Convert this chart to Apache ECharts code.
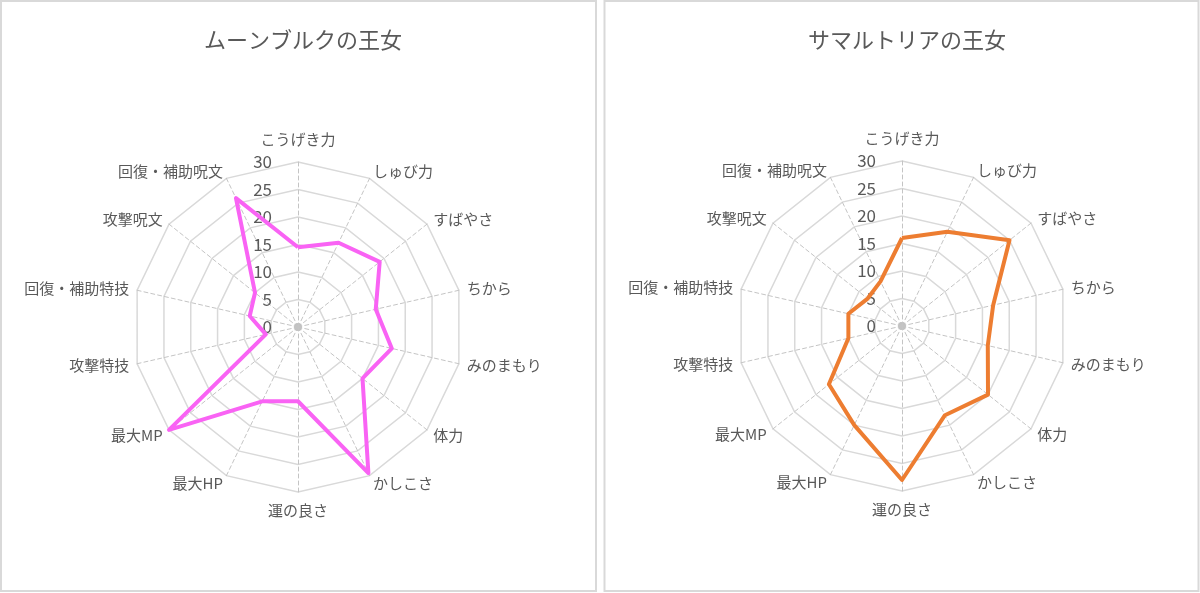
<!DOCTYPE html>
<html>
<head>
<meta charset="utf-8">
<script src="https://cdn.jsdelivr.net/npm/echarts@6/dist/echarts.min.js"></script>
<style>
  html, body { margin: 0; padding: 0; background: #fff; }
  #chart { width: 1200px; height: 593px; }
</style>
</head>
<body>
<div id="chart"></div>
<script>
// indicators, clockwise from the top
const statNames = ['こうげき力', 'しゅび力', 'すばやさ', 'ちから', 'みのまもり', '体力', 'かしこさ',
    '運の良さ', '最大HP', '最大MP', '攻撃特技', '回復・補助特技', '攻撃呪文', '回復・補助呪文'];
const moonbrookValues = [14.5, 17, 19, 14.5, 17.5, 15, 29.5, 13.5, 15, 30, 6, 9, 10, 26];
const samaltriaValues = [16, 19, 25, 17, 16, 20, 18, 28, 20, 17, 10, 10, 8, 9];
const titles = ['ムーンブルクの王女', 'サマルトリアの王女'];
const axisMin = 0;
const axisMax = 30;
const axisSplits = 6;

const font = 'Noto Sans CJK JP';
const textColor = '#595959';
const centers = [[298, 327], [902, 326]];
const radius = 165;

// echarts lays radar indicators out counter-clockwise, so keep the first and reverse the rest
const order = [0].concat(statNames.map((d, i) => i).slice(1).reverse());
const reorder = arr => order.map(i => arr[i]);

function makeIndicators() {
    return reorder(statNames).map((name, i) => {
        let ind = {name: name, min: axisMin, max: axisMax};
        if (i === 0) {
            ind.axisLabel = {show: true};
            ind.nameGap = 15;
        }
        if (name === '運の良さ') ind.nameGap = 11;
        return ind;
    });
}

function makeRadar(center) {
    return {
        center: center,
        radius: radius,
        shape: 'polygon',
        splitNumber: axisSplits,
        indicator: makeIndicators(),
        nameGap: 8,
        axisName: {color: textColor, fontSize: 15, fontFamily: font},
        axisLine: {lineStyle: {color: '#c4c4c4', width: 1, type: [4, 3]}},
        axisTick: {show: false},
        axisLabel: {show: false, margin: 26, color: textColor, fontSize: 17, fontFamily: font},
        splitLine: {lineStyle: {color: '#d9d9d9', width: 1.5}},
        splitArea: {show: false}
    };
}

let chart = echarts.init(document.getElementById('chart'));
chart.setOption({
    animation: false,
    title: titles.map((t, i) => ({
        text: t,
        left: centers[i][0],
        top: 24,
        textAlign: 'center',
        textStyle: {color: textColor, fontSize: 22, fontWeight: 'normal', fontFamily: font}
    })),
    graphic: [
        {type: 'rect', shape: {x: 1, y: 1, width: 595, height: 590}, style: {fill: 'none', stroke: '#d9d9d9', lineWidth: 2}},
        {type: 'rect', shape: {x: 604.5, y: 1, width: 594, height: 590}, style: {fill: 'none', stroke: '#d9d9d9', lineWidth: 2}},
        {type: 'circle', shape: {cx: centers[0][0], cy: centers[0][1], r: 4}, style: {fill: '#c0c0c0'}},
        {type: 'circle', shape: {cx: centers[1][0], cy: centers[1][1], r: 4}, style: {fill: '#c0c0c0'}}
    ],
    radar: [makeRadar(centers[0]), makeRadar(centers[1])],
    series: [
        {
            type: 'radar',
            radarIndex: 0,
            symbol: 'none',
            lineStyle: {color: '#f963f4', width: 4},
            data: [{value: reorder(moonbrookValues), name: titles[0]}]
        },
        {
            type: 'radar',
            radarIndex: 1,
            symbol: 'none',
            lineStyle: {color: '#ed7d31', width: 4},
            data: [{value: reorder(samaltriaValues), name: titles[1]}]
        }
    ]
});
</script>
</body>
</html>
